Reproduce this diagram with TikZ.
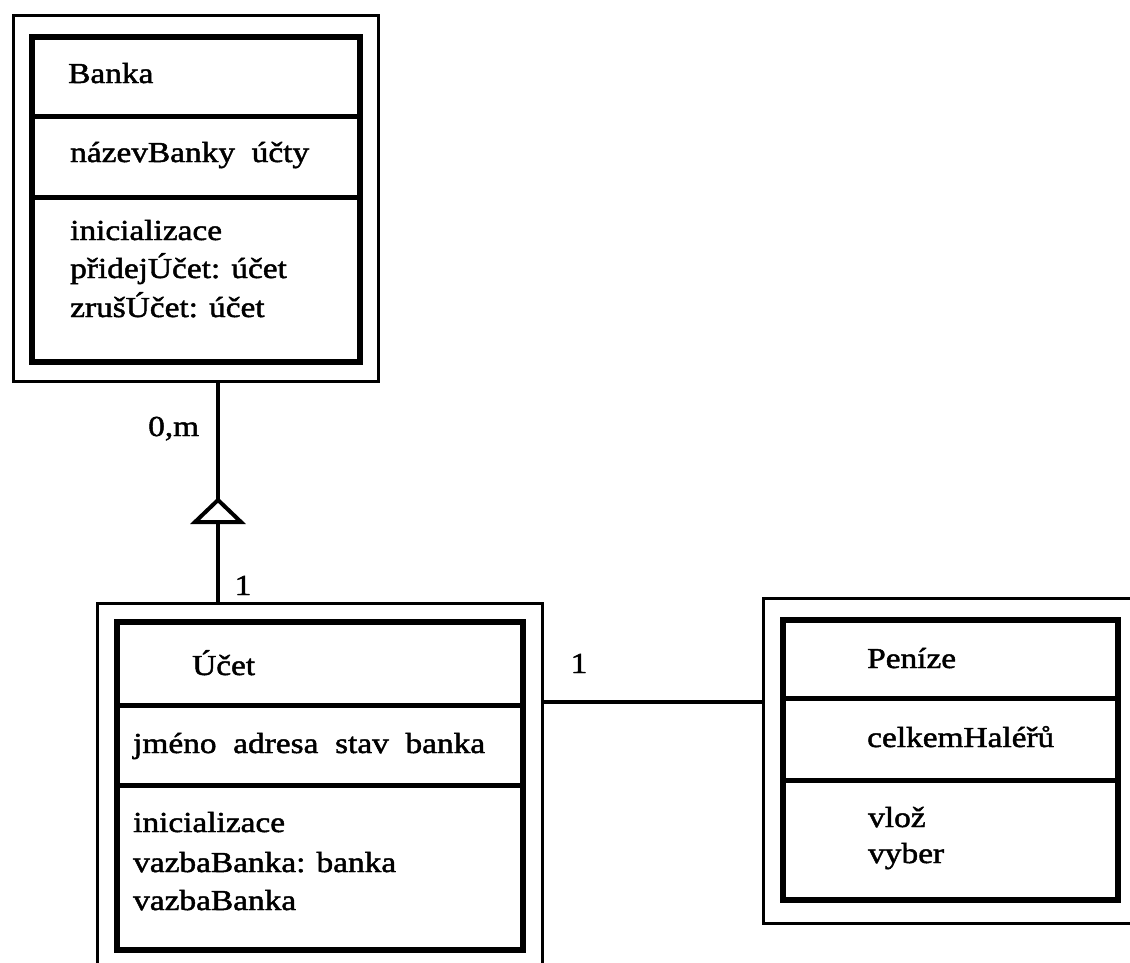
\documentclass[tikz,border=0pt]{standalone}
\usepackage{fontspec}
\setmainfont{Liberation Serif}[FakeStretch=1.15, FakeBold=1.6]
\begin{document}
\begin{tikzpicture}[x=1pt, y=-1pt,
  frame/.style={draw, line width=3pt, inner sep=0pt, outer sep=0pt},
  inner/.style={draw, line width=6pt, inner sep=0pt, outer sep=0pt},
  divider/.style={line width=5pt},
  link/.style={line width=3.5pt},
  txt/.style={anchor=base west, inner sep=0pt, font=\fontsize{29}{39}\selectfont},
  mult/.style={anchor=base, inner sep=0pt, font=\fontsize{29}{39}\selectfont}]
\useasboundingbox (0,0) rectangle (1130,962);

% ---------- Banka ----------
\node[frame, minimum width=365pt, minimum height=366pt] (bankaOuter) at (195.5,198) {};
\node[inner, minimum width=328pt, minimum height=325pt] (bankaInner) at (196,199.5) {};
\draw[divider] (bankaInner.west |- 0,116) -- (bankaInner.east |- 0,116);
\draw[divider] (bankaInner.west |- 0,197) -- (bankaInner.east |- 0,197);
\node[txt] (bankaName) at (68,83) {Banka};
\node[txt] (bankaAttr) at (70,162) {názevBanky~~účty};
\node[txt] (bankaM1) at (70,240) {inicializace};
\node[txt] (bankaM2) at (70,278) {přidejÚčet: účet};
\node[txt] (bankaM3) at (70,317) {zrušÚčet: účet};

% ---------- Účet ----------
\node[frame, minimum width=445pt, minimum height=382pt] (ucetOuter) at (319.5,794) {};
\node[inner, minimum width=406pt, minimum height=328pt] (ucetInner) at (320,786) {};
\draw[divider] (ucetInner.west |- 0,705) -- (ucetInner.east |- 0,705);
\draw[divider] (ucetInner.west |- 0,785) -- (ucetInner.east |- 0,785);
\node[txt] (ucetName) at (192,675) {Účet};
\node[txt] (ucetAttr) at (133,753) {jméno~~adresa~~stav~~banka};
\node[txt] (ucetM1) at (133,832) {inicializace};
\node[txt] (ucetM2) at (133,872) {vazbaBanka: banka};
\node[txt] (ucetM3) at (133,910) {vazbaBanka};

% ---------- Peníze ----------
\node[frame, minimum width=387pt, minimum height=325pt] (penizeOuter) at (956.5,760.5) {};
\node[inner, minimum width=335pt, minimum height=280pt] (penizeInner) at (950.5,760) {};
\draw[divider] (penizeInner.west |- 0,698) -- (penizeInner.east |- 0,698);
\draw[divider] (penizeInner.west |- 0,780) -- (penizeInner.east |- 0,780);
\node[txt] (penizeName) at (867,668) {Peníze};
\node[txt] (penizeAttr) at (867,747) {celkemHaléřů};
\node[txt] (penizeM1) at (868,827) {vlož};
\node[txt] (penizeM2) at (868,863) {vyber};

% ---------- Banka -- Účet (aggregation triangle) ----------
\coordinate (apex) at (218,500);
\coordinate (base) at (218,522);
\draw[link] (apex |- bankaOuter.south) -- (apex);
\draw[line width=4pt, line join=miter, fill=white] (apex) -- ([xshift=-23pt]base) -- ([xshift=23pt]base) -- cycle;
\draw[link] (base) -- (base |- ucetOuter.north);
\node[txt] (mulBanka) at (148,436) {0,m};
\node[mult] (mulUcet) at (243,595) {1};

% ---------- Účet -- Peníze ----------
\coordinate (lk) at (650,702);
\draw[link] (lk -| ucetOuter.east) -- (lk -| penizeOuter.west);
\node[mult] (mulPen) at (579,673) {1};
\end{tikzpicture}
\end{document}
